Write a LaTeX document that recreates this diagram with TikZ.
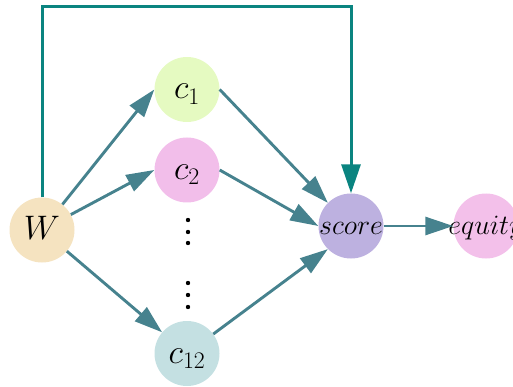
\RequirePackage{fix-cm}
\documentclass[tikz,border=0pt]{standalone}
\usetikzlibrary{arrows.meta}
\definecolor{arr}{RGB}{70,130,142}
\definecolor{topc}{RGB}{10,132,128}
\definecolor{cW}{RGB}{245,227,192}
\definecolor{cA}{RGB}{229,250,193}
\definecolor{cB}{RGB}{242,190,234}
\definecolor{cC}{RGB}{196,224,226}
\definecolor{cS}{RGB}{189,177,224}
\definecolor{cE}{RGB}{243,192,234}
\begin{document}
\begin{tikzpicture}[x=1pt,y=-1pt,
  nd/.style={circle, minimum size=65pt, inner sep=0pt},
  big/.style={font=\fontsize{34}{40}\selectfont, text height=24pt, text depth=5pt},
  mid/.style={font=\fontsize{28}{34}\selectfont, text height=20pt, text depth=4pt},
  conn/.style={draw=arr, line width=2.9pt, -{Triangle[length=28pt,width=18pt]}},
  topconn/.style={draw=topc, line width=3pt, -{Triangle[length=29pt,width=19pt]}},
  dotc/.style={fill=black}]
\useasboundingbox (0,0) rectangle (513,387);
\node[nd,big,fill=cW] (W) at (42,230) {$W$};
\node[nd,big,fill=cA] (c1) at (187,89.5) {$c_1$};
\node[nd,big,fill=cB] (c2) at (187,170) {$c_2$};
\node[nd,big,fill=cC] (c12) at (187,353.5) {$c_{12}$};
\node[nd,mid,fill=cS] (score) at (351,226) {\makebox[0pt]{$score$}};
\node[nd,mid,fill=cE] (equity) at (486,226) {\makebox[0pt]{$equity$}};
\foreach \yy in {220,232,243,283,295,307}
  \fill[dotc] (188,\yy) circle (2.2pt);
\coordinate (tl) at (42,7);
\coordinate (tr) at (351,7);
\draw[topconn] (W.north) -- (tl) -- (tr) -- (score.north);
\draw[conn] (W) -- (c1.west);
\draw[conn] (W) -- (c2.west);
\draw[conn] (W) -- (c12);
\draw[conn] (c1.east) -- (score.north west);
\draw[conn] (c2.east) -- (score.west);
\draw[conn] (c12) -- (score.south west);
\draw[conn] (score) -- (equity);
\end{tikzpicture}
\end{document}
